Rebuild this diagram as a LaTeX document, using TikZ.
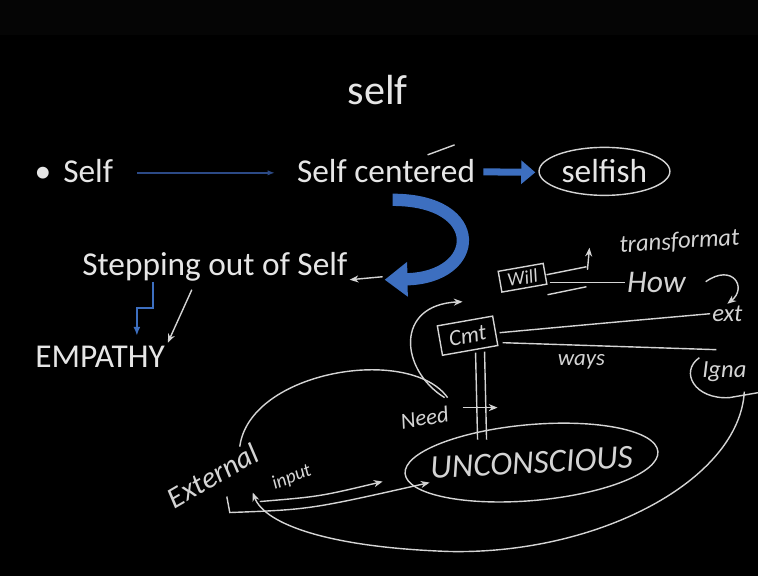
\documentclass[tikz,border=0pt]{standalone}
\usepackage{fontspec}
\setmainfont{Carlito}
\usepackage{tikz}
\usetikzlibrary{shapes, arrows.meta, positioning, calc}
\definecolor{slidetext}{HTML}{E6E6E6}
\definecolor{handink}{HTML}{D4D4D4}
\definecolor{slideblue}{HTML}{3D6FC0}
\definecolor{slidenavy}{HTML}{2C4A86}
\definecolor{topband}{HTML}{050505}

\begin{document}
\begin{tikzpicture}[x=0.02cm, y=-0.02cm,
    slide/.style={text=slidetext, font=\fontsize{19}{23}\selectfont, inner sep=0pt},
    ink/.style={draw=handink, line width=0.8pt},
    inktext/.style={text=handink, font=\itshape\fontsize{13}{15}\selectfont, inner sep=1pt},
    inkarrow/.style={ink, -{Stealth[length=5pt, width=4pt]}}]
    \fill[black] (0,0) rectangle (759,577);
    \fill[topband] (0,0) rectangle (759,35);

    % slide text
    \node[slide, font=\fontsize{24}{28}\selectfont, anchor=base] (title) at (378,105) {self};
    \node[slide, anchor=base] (bullet) at (43,183) {•};
    \node[slide, anchor=base west] (selfn) at (63,183) {Self};
    \node[slide, anchor=base west] (centered) at (297,183) {Self centered};
    \node[slide, ellipse, ink, inner xsep=2pt, inner ysep=3pt, anchor=base] (selfish) at (605,183) {selfish};
    \node[slide, anchor=base west] (stepping) at (82,276) {Stepping out of Self};
    \node[slide, anchor=base west] (empathy) at (35,368) {EMPATHY};

    % slide arrows
    \draw[slidenavy, line width=1pt, -{Latex[length=4pt, width=3pt]}] ($(selfn.base east)+(24,-10)$) -- ($(centered.base west)+(-22,-10)$);
    \draw[slideblue, line width=4pt, -{Triangle[length=8pt, width=13pt]}] ($(centered.base east)+(8,-11)$) -- ($(selfish.west)+(-3,1)$);
    \draw[inkarrow] ($(stepping.base east)+(35,1)$) -- ($(stepping.base east)+(2,4)$);
    \draw[slideblue, line width=7pt, -{Triangle[length=13pt, width=19pt]}] ($(centered.base west)+(96,17)$) .. controls ($(centered.base west)+(190,17)$) and ($(centered.base west)+(185,95)$) .. ($(stepping.base east)+(37,4)$);
    \draw[slideblue, line width=1.2pt, -{Latex[length=5pt, width=4pt]}] ($(stepping.base west)+(71,6)$) -- ++(0,26) -| ($(empathy.base west)+(102,-32)$);
    \draw[inkarrow] ($(stepping.base west)+(110,14)$) -- ($(empathy.base west)+(133,-25)$);
    \draw[ink] ($(centered.base west)+(131,-28)$) -- ($(centered.base west)+(158,-38)$);

    % handwriting
    \node[inktext, font=\itshape\fontsize{14}{16}\selectfont, rotate=4] (transf) at (680,242) {transformat};
    \node[inktext, ink, rotate=10, minimum width=26pt, minimum height=12pt, font=\itshape\fontsize{11}{12}\selectfont] (will) at (523,278) {Will};
    \node[inktext, font=\itshape\fontsize{18}{20}\selectfont] (how) at (657,283) {How};
    \node[inktext, font=\itshape\fontsize{14}{16}\selectfont] (ext) at (728,314) {ext};
    \node[inktext, ink, rotate=10, minimum width=32pt, minimum height=17pt] (cmt) at (468,336) {Cmt};
    \node[inktext] (ways) at (582,362) {ways};
    \node[inktext, font=\itshape\fontsize{14}{16}\selectfont] (igna) at (725,372) {Igna};
    \node[inktext, rotate=10] (need) at (425,418) {Need};
    \node[inktext, rotate=3, font=\itshape\fontsize{19}{22}\selectfont] (uncon) at (532,463) {UNCONSCIOUS};
    \node[inktext, rotate=30, font=\itshape\fontsize{17}{19}\selectfont] (external) at (213,476) {External};
    \node[inktext, rotate=22, font=\itshape\fontsize{11}{12}\selectfont] (input) at (292,478) {input};

    % will / how
    \draw[ink] ($(will)+(24,-3)$) -- ($(will)+(64,-11)$);
    \draw[ink] ($(will)+(25,17)$) -- ($(will)+(64,9)$);
    \draw[ink] ($(will)+(27,5)$) -- (how.west);
    \draw[inkarrow] ($(will)+(65,-8)$) -- ($(will)+(67,-30)$);
    \draw[inkarrow] ($(how.east)+(18,-1)$) .. controls ($(how.east)+(45,-20)$) and ($(how.east)+(60,5)$) .. (ext.north);

    % cmt
    \draw[ink] ($(cmt)+(32,-3)$) .. controls ($(cmt)+(130,-12)$) .. (ext.west);
    \draw[ink] ($(cmt)+(35,7)$) -- ($(igna)+(-8,-22)$);
    \draw[ink] ($(igna)+(-25,-14)$) .. controls ($(igna)+(-45,0)$) and ($(igna)+(-30,28)$) .. ($(igna)+(5,26)$) -- ($(igna)+(34,21)$);
    \draw[ink] ($(cmt)+(8,17)$) -- ($(cmt)+(10,104)$);
    \draw[ink] ($(cmt)+(17,16)$) -- ($(cmt)+(19,104)$);

    % need / unconscious
    \draw[inkarrow] ($(need)+(38,-10)$) -- ($(need)+(73,-10)$);
    \draw[inkarrow] ($(need)+(20,-20)$) .. controls ($(need)+(-25,-48)$) and ($(need)+(-30,-113)$) .. ($(cmt)+(-5,-34)$);
    \draw[ink, rotate around={5:(uncon)}] (uncon) ellipse [x radius=127, y radius=38];

    % external input
    \draw[ink] ($(external)+(27,-29)$) .. controls ($(external)+(37,-105)$) and ($(need)+(-15,-73)$) .. ($(need)+(23,-20)$);
    \draw[inkarrow] ($(external)+(47,26)$) .. controls ($(external)+(107,21)$) .. ($(uncon)+(-149,19)$);
    \draw[inkarrow] ($(external)+(14,21)$) -- ($(external)+(17,37)$) .. controls ($(external)+(97,34)$) .. ($(uncon)+(-102,20)$);
    \draw[inkarrow] ($(igna)+(20,20)$) .. controls (740,480) and (600,555) .. (450,552) .. controls (330,548) and (265,525) .. ($(external)+(40,17)$);
\end{tikzpicture}
\end{document}
